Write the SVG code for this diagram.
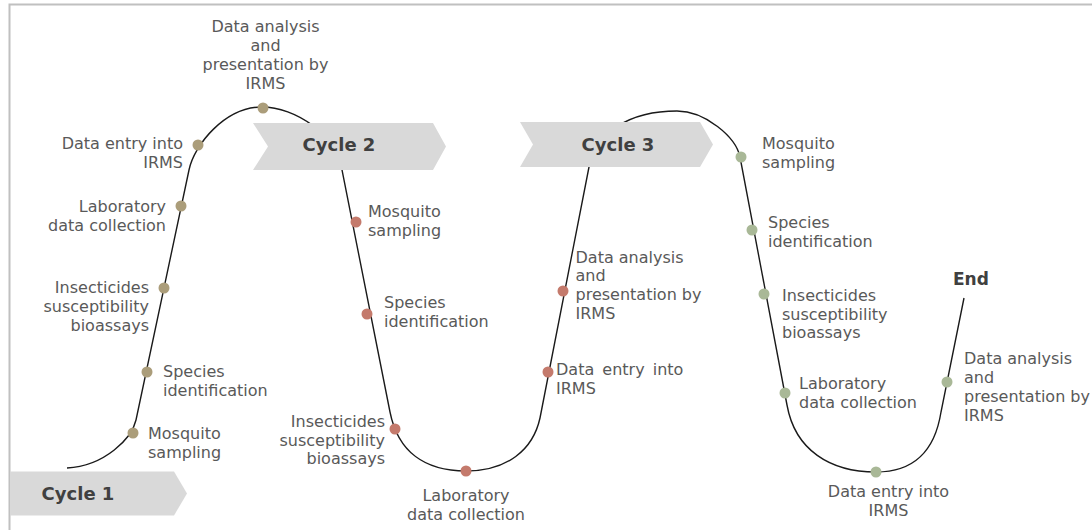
<svg xmlns="http://www.w3.org/2000/svg" width="1092" height="530" viewBox="0 0 1092 530">
<style>
.lbl{font-family:"DejaVu Sans","Liberation Sans",sans-serif;font-size:16px;fill:#595959}
.ttl{font-family:"DejaVu Sans","Liberation Sans",sans-serif;font-size:18px;font-weight:bold;fill:#404040}
.chev{fill:#d9d9d9}
.d1{fill:#ab9d7a}
.d2{fill:#c47a6c}
.d3{fill:#a9b897}
.curve{fill:none;stroke:#1a1a1a;stroke-width:1.4}
</style>
<rect x="0" y="0" width="1092" height="530" fill="#ffffff"/>
<rect x="9.5" y="4.5" width="1100" height="540" fill="none" stroke="#c0c0c0" stroke-width="2"/>
<g id="connectors">
<path class="curve" d="M67,468 C105,466 132,438 136,420 L189,170 C194,145 225,107 262,107 C295,107 337,135 342,170 L390,412 C398,452 425,471 466,471 C507,471 533,450 540,418 L589,167 C596,132 630,111 677,111 C705,111 736,137 740,157 L787,405 C795,450 830,472 876,472 C915,472 935,450 941,412 L964,298"/>
</g>
<g id="cycle1"><polygon class="chev" points="10,471.5 174,471.5 187,493.5 174,515.5 10,515.5"/><text class="ttl" x="78" y="500" text-anchor="middle">Cycle 1</text></g>
<g id="cycle2"><polygon class="chev" points="253,123 433,123 446,146.5 433,170 253,170 268,146.5"/><text class="ttl" x="339" y="151" text-anchor="middle">Cycle 2</text></g>
<g id="cycle3"><polygon class="chev" points="520,122 700,122 713,144.5 700,167 520,167 533,144.5"/><text class="ttl" x="618" y="151" text-anchor="middle">Cycle 3</text></g>

<g id="c1-analysis"><circle class="d1" cx="263" cy="108" r="5.5"/><text class="lbl" text-anchor="middle"><tspan x="265.5" y="32">Data analysis</tspan><tspan x="265.5" y="51">and</tspan><tspan x="265.5" y="70">presentation by</tspan><tspan x="265.5" y="89">IRMS</tspan></text></g>
<g id="c1-entry"><circle class="d1" cx="198" cy="145" r="5.5"/><text class="lbl" text-anchor="end"><tspan x="183" y="149">Data entry into</tspan><tspan x="183" y="168">IRMS</tspan></text></g>
<g id="c1-lab"><circle class="d1" cx="181" cy="206" r="5.5"/><text class="lbl" text-anchor="end"><tspan x="166" y="212">Laboratory</tspan><tspan x="166" y="231">data collection</tspan></text></g>
<g id="c1-insect"><circle class="d1" cx="164" cy="288" r="5.5"/><text class="lbl" text-anchor="end"><tspan x="149" y="293">Insecticides</tspan><tspan x="149" y="312">susceptibility</tspan><tspan x="149" y="331">bioassays</tspan></text></g>
<g id="c1-species"><circle class="d1" cx="147" cy="372" r="5.5"/><text class="lbl"><tspan x="163" y="377">Species</tspan><tspan x="163" y="396">identification</tspan></text></g>
<g id="c1-mosq"><circle class="d1" cx="133" cy="433" r="5.5"/><text class="lbl"><tspan x="148" y="439">Mosquito</tspan><tspan x="148" y="458">sampling</tspan></text></g>

<g id="c2-mosq"><circle class="d2" cx="356" cy="222" r="5.5"/><text class="lbl"><tspan x="368" y="217">Mosquito</tspan><tspan x="368" y="236">sampling</tspan></text></g>
<g id="c2-species"><circle class="d2" cx="367" cy="314" r="5.5"/><text class="lbl"><tspan x="384" y="308">Species</tspan><tspan x="384" y="327">identification</tspan></text></g>
<g id="c2-insect"><circle class="d2" cx="395" cy="429" r="5.5"/><text class="lbl" text-anchor="end"><tspan x="385" y="427">Insecticides</tspan><tspan x="385" y="445.5">susceptibility</tspan><tspan x="385" y="464">bioassays</tspan></text></g>
<g id="c2-lab"><circle class="d2" cx="466" cy="471" r="5.5"/><text class="lbl" text-anchor="middle"><tspan x="466" y="501">Laboratory</tspan><tspan x="466" y="520">data collection</tspan></text></g>
<g id="c2-entry"><circle class="d2" cx="548" cy="372" r="5.5"/><text class="lbl"><tspan x="556" y="375" word-spacing="3">Data entry into</tspan><tspan x="556" y="393.5">IRMS</tspan></text></g>
<g id="c2-analysis"><circle class="d2" cx="563" cy="291" r="5.5"/><text class="lbl"><tspan x="575.5" y="262.5">Data analysis</tspan><tspan x="575.5" y="281">and</tspan><tspan x="575.5" y="300">presentation by</tspan><tspan x="575.5" y="318.5">IRMS</tspan></text></g>

<g id="c3-mosq"><circle class="d3" cx="741" cy="157" r="5.5"/><text class="lbl"><tspan x="762" y="149">Mosquito</tspan><tspan x="762" y="167.5">sampling</tspan></text></g>
<g id="c3-species"><circle class="d3" cx="752" cy="230" r="5.5"/><text class="lbl"><tspan x="768" y="228">Species</tspan><tspan x="768" y="247">identification</tspan></text></g>
<g id="c3-insect"><circle class="d3" cx="764" cy="294" r="5.5"/><text class="lbl"><tspan x="782" y="301">Insecticides</tspan><tspan x="782" y="319.5">susceptibility</tspan><tspan x="782" y="338">bioassays</tspan></text></g>
<g id="c3-lab"><circle class="d3" cx="785" cy="393" r="5.5"/><text class="lbl"><tspan x="799" y="389">Laboratory</tspan><tspan x="799" y="408">data collection</tspan></text></g>
<g id="c3-entry"><circle class="d3" cx="876" cy="472" r="5.5"/><text class="lbl" text-anchor="middle"><tspan x="888.5" y="497">Data entry into</tspan><tspan x="888.5" y="515.5">IRMS</tspan></text></g>
<g id="c3-analysis"><circle class="d3" cx="947" cy="382" r="5.5"/><text class="lbl"><tspan x="964" y="364">Data analysis</tspan><tspan x="964" y="383">and</tspan><tspan x="964" y="402">presentation by</tspan><tspan x="964" y="420.5">IRMS</tspan></text></g>
<g id="end"><text class="ttl" x="953" y="285" style="font-size:17px">End</text></g>
</svg>
